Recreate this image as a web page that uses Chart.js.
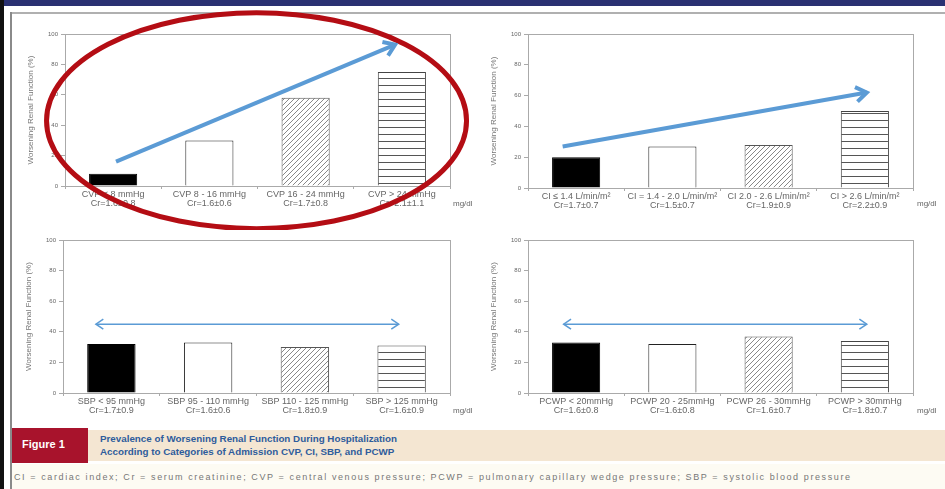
<!DOCTYPE html>
<html>
<head>
<meta charset="utf-8">
<script src="https://cdn.jsdelivr.net/npm/chart.js@4.4.1/dist/chart.umd.min.js"></script>
<style>
  body { margin: 0; background: #fff; font-family: "Liberation Sans", Arial, sans-serif; }
  #page { position: relative; width: 945px; height: 489px; overflow: hidden; background: #fff; }
  canvas { position: absolute; }
  .deco { position: absolute; }
  .unit { position: absolute; font-size: 8px; color: #666; }
</style>
</head>
<body>
<div id="page">
  <div class="deco" style="left:0;top:0;width:945px;height:6px;background:#2a3172;"></div>
  <div class="deco" style="left:0;top:0;width:4px;height:489px;background:#111;"></div>
  <div class="deco" style="left:10px;top:12px;width:935px;height:2px;background:#b0b0b0;"></div>
  <div class="deco" style="left:10px;top:12px;width:2px;height:477px;background:#8a8a8a;"></div>

  <!-- caption band -->
  <div class="deco" style="left:88px;top:430px;width:857px;height:31px;background:#f4e6d2;"></div>
  <div class="deco" style="left:12px;top:464px;width:933px;height:25px;background:#fdfbf3;"></div>
  <div class="deco" style="left:12px;top:428px;width:76px;height:35px;background:#a8132c;"></div>
  <div class="deco" style="left:22px;top:438px;color:#fff;font-weight:bold;font-size:11px;">Figure 1</div>
  <div class="deco" style="left:100px;top:432px;color:#2e5c9c;font-weight:bold;font-size:9.8px;line-height:13px;">
    Prevalence of Worsening Renal Function During Hospitalization<br>
    According to Categories of Admission CVP, CI, SBP, and PCWP
  </div>
  <div class="deco" style="left:14px;top:472px;color:#777;font-size:9px;letter-spacing:1.6px;white-space:nowrap;">
    CI = cardiac index; Cr = serum creatinine; CVP = central venous pressure; PCWP = pulmonary capillary wedge pressure; SBP = systolic blood pressure
  </div>

  <canvas id="cvpChart" width="455" height="222" style="left:25px;top:8px;"></canvas>
  <canvas id="ciChart" width="457" height="222" style="left:488px;top:8px;"></canvas>
  <canvas id="sbpChart" width="457" height="204" style="left:23px;top:226px;"></canvas>
  <canvas id="pcwpChart" width="457" height="204" style="left:488px;top:226px;"></canvas>

  <div class="unit" style="left:453px;top:199px;">mg/dl</div>
  <div class="unit" style="left:917px;top:199px;">mg/dl</div>
  <div class="unit" style="left:453px;top:406px;">mg/dl</div>
  <div class="unit" style="left:917px;top:406px;">mg/dl</div>
</div>

<script>
// worsening renal function (%) per admission category
const cvpLabels = [['CVP < 8 mmHg', 'Cr=1.6±0.8'], ['CVP 8 - 16 mmHg', 'Cr=1.6±0.6'], ['CVP 16 - 24 mmHg', 'Cr=1.7±0.8'], ['CVP > 24 mmHg', 'Cr=2.1±1.1']];
const cvpValues = [8, 30, 58, 75];

const ciLabels = [['CI ≤ 1.4 L/min/m²', 'Cr=1.7±0.7'], ['CI = 1.4 - 2.0 L/min/m²', 'Cr=1.5±0.7'], ['CI 2.0 - 2.6 L/min/m²', 'Cr=1.9±0.9'], ['CI > 2.6 L/min/m²', 'Cr=2.2±0.9']];
const ciValues = [20, 27, 28, 50];

const sbpLabels = [['SBP < 95 mmHg', 'Cr=1.7±0.9'], ['SBP 95 - 110 mmHg', 'Cr=1.6±0.6'], ['SBP 110 - 125 mmHg', 'Cr=1.8±0.9'], ['SBP > 125 mmHg', 'Cr=1.6±0.9']];
const sbpValues = [32, 33, 30, 31];

const pcwpLabels = [['PCWP < 20mmHg', 'Cr=1.6±0.8'], ['PCWP 20 - 25mmHg', 'Cr=1.6±0.8'], ['PCWP 26 - 30mmHg', 'Cr=1.6±0.7'], ['PCWP > 30mmHg', 'Cr=1.8±0.7']];
const pcwpValues = [33, 32, 37, 34];

const yTitle = 'Worsening Renal Function (%)';

// fill patterns for the 4 categories
function hatchPattern() {
    const c = document.createElement('canvas');
    c.width = 5; c.height = 5;
    const g = c.getContext('2d');
    g.fillStyle = '#fff';
    g.fillRect(0, 0, 5, 5);
    g.strokeStyle = '#888';
    g.lineWidth = 1;
    g.beginPath();
    g.moveTo(-1, 6); g.lineTo(6, -1);
    g.moveTo(-1, 1); g.lineTo(1, -1);
    g.moveTo(4, 6); g.lineTo(6, 4);
    g.stroke();
    return g.createPattern(c, 'repeat');
}
function linePattern() {
    const c = document.createElement('canvas');
    c.width = 8; c.height = 7;
    const g = c.getContext('2d');
    g.fillStyle = '#fff';
    g.fillRect(0, 0, 8, 7);
    g.fillStyle = '#555';
    g.fillRect(0, 0, 8, 1);
    return g.createPattern(c, 'repeat');
}
const fills = ['#000', '#fff', hatchPattern(), linePattern()];
const borders = ['#000', '#222', '#555', '#444'];

// box around plot area + blue arrows / red ellipse annotations
const framePlugin = {
    id: 'frame',
    beforeDatasetsDraw(chart) {
        const a = chart.chartArea, ctx = chart.ctx;
        ctx.save();
        ctx.strokeStyle = '#aaa';
        ctx.lineWidth = 1;
        ctx.strokeRect(a.left + 0.5, a.top + 0.5, a.right - a.left, a.bottom - a.top);
        ctx.restore();
    }
};

function head(ctx, x, y, ang, len) {
    ctx.beginPath();
    ctx.moveTo(x - len * Math.cos(ang - 0.6), y - len * Math.sin(ang - 0.6));
    ctx.lineTo(x, y);
    ctx.lineTo(x - len * Math.cos(ang + 0.6), y - len * Math.sin(ang + 0.6));
    ctx.stroke();
}

const notePlugin = {
    id: 'notes',
    afterDraw(chart, args, opts) {
        const ctx = chart.ctx, xs = chart.scales.x, ys = chart.scales.y;
        ctx.save();
        if (opts.ellipse) {
            const e = opts.ellipse;
            ctx.strokeStyle = '#b40d14';
            ctx.lineWidth = 5;
            ctx.beginPath();
            ctx.ellipse(xs.getPixelForValue(e.at[0]), ys.getPixelForValue(e.at[1]), e.rx, e.ry, 0, 0, Math.PI * 2);
            ctx.stroke();
        }
        if (opts.arrow) {
            const r = opts.arrow;
            const x1 = xs.getPixelForValue(r.from[0]), y1 = ys.getPixelForValue(r.from[1]);
            const x2 = xs.getPixelForValue(r.to[0]), y2 = ys.getPixelForValue(r.to[1]);
            ctx.strokeStyle = '#5b9bd5';
            ctx.lineWidth = r.width;
            ctx.beginPath();
            ctx.moveTo(x1, y1);
            ctx.lineTo(x2, y2);
            ctx.stroke();
            const ang = Math.atan2(y2 - y1, x2 - x1);
            head(ctx, x2, y2, ang, r.head);
            if (r.both) head(ctx, x1, y1, ang + Math.PI, r.head);
        }
        ctx.restore();
    }
};

function buildChart(id, labels, values, pad, xHeight, notes) {
    return new Chart(document.getElementById(id), {
        type: 'bar',
        data: {
            labels: labels,
            datasets: [{
                data: values,
                backgroundColor: fills,
                borderColor: borders,
                borderWidth: 1,
                barPercentage: 0.5,
                categoryPercentage: 1.0
            }]
        },
        options: {
            responsive: false,
            animation: false,
            layout: { padding: pad },
            plugins: {
                legend: { display: false },
                tooltip: { enabled: false },
                notes: notes
            },
            scales: {
                x: {
                    afterFit: s => { s.height = xHeight; },
                    border: { color: '#aaa' },
                    grid: { drawOnChartArea: false, tickLength: 3, color: '#aaa', offset: true },
                    ticks: {
                        autoSkip: false, maxRotation: 0, padding: 1,
                        color: '#666',
                        font: { family: 'Liberation Sans', size: 9, lineHeight: 1.0 }
                    }
                },
                y: {
                    min: 0, max: 100,
                    afterFit: s => { s.width = 40; },
                    border: { color: '#aaa' },
                    grid: { drawOnChartArea: false, tickLength: 4, color: '#aaa' },
                    ticks: {
                        stepSize: 20, padding: 3,
                        color: '#666',
                        font: { family: 'Liberation Sans', size: 6 }
                    },
                    title: {
                        display: true, text: yTitle, padding: 1,
                        color: '#777',
                        font: { family: 'Liberation Sans', size: 8 }
                    }
                }
            }
        },
        plugins: [framePlugin, notePlugin]
    });
}

buildChart('cvpChart', cvpLabels, cvpValues, { top: 26, right: 30 }, 44, {
    ellipse: { at: [1.49, 43], rx: 210, ry: 108 },
    arrow: { from: [0.03, 16], to: [2.93, 93], width: 4, head: 13, both: false }
});
buildChart('ciChart', ciLabels, ciValues, { top: 26, right: 32 }, 42, {
    arrow: { from: [-0.14, 27], to: [3.02, 62], width: 4, head: 13, both: false }
});
buildChart('sbpChart', sbpLabels, sbpValues, { top: 14, right: 30 }, 37, {
    arrow: { from: [-0.16, 45], to: [2.97, 45], width: 1.5, head: 9, both: true }
});
buildChart('pcwpChart', pcwpLabels, pcwpValues, { top: 14, right: 32 }, 37, {
    arrow: { from: [-0.13, 45], to: [3.02, 45], width: 1.5, head: 9, both: true }
});
</script>
</body>
</html>
